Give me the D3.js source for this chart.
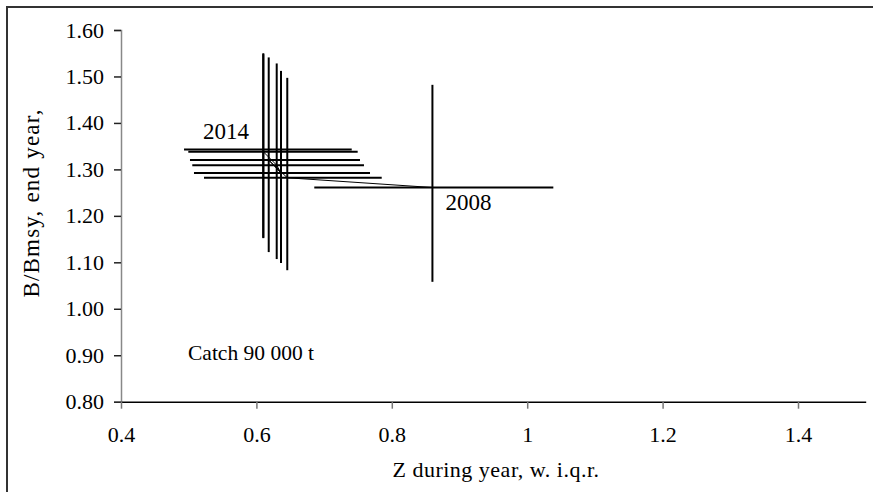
<!DOCTYPE html>
<html><head><meta charset="utf-8">
<script src="https://cdn.jsdelivr.net/npm/d3@7"></script>
<style>
html,body{margin:0;padding:0;background:#fff;}
svg{display:block;}
text{font-family:"Liberation Serif","Times New Roman",serif;fill:#000;}
</style></head>
<body><svg id="chart" width="873" height="492"></svg>
<script>
const years   = [2008, 2009, 2010, 2011, 2012, 2013, 2014];
const zMed    = [0.860, 0.6456, 0.6182, 0.6363, 0.6300, 0.6102, 0.6102];
const zLow    = [0.6855, 0.5226, 0.5019, 0.5078, 0.5053, 0.4994, 0.4931];
const zHigh   = [1.0386, 0.7851, 0.7530, 0.7678, 0.7589, 0.7496, 0.7408];
const bMed    = [1.261, 1.282, 1.320, 1.292, 1.309, 1.338, 1.343];
const bLow    = [1.058, 1.083, 1.122, 1.0985, 1.107, 1.152, 1.153];
const bHigh   = [1.482, 1.497, 1.541, 1.512, 1.528, 1.550, 1.548];
const xTicks  = [0.4, 0.6, 0.8, 1.0, 1.2, 1.4];
const xTickLabels = ["0.4", "0.6", "0.8", "1", "1.2", "1.4"];
const yTicks  = [0.8, 0.9, 1.0, 1.1, 1.2, 1.3, 1.4, 1.5, 1.6];
const labeledYears = [2008, 2014];
const note = "Catch 90 000 t";

const FONT = '"Liberation Serif","Times New Roman",serif';
const svg = d3.select("#chart");
const x = d3.scaleLinear().domain([0.4, 1.5]).range([121, 865.7]);
const y = d3.scaleLinear().domain([0.8, 1.6]).range([401.7, 30]);

// outer frame
svg.append("rect").attr("x", 7).attr("y", 7).attr("width", 880).attr("height", 500)
  .attr("fill", "none").attr("stroke", "#333").attr("stroke-width", 2);

// y axis
const yAxis = svg.append("g").attr("transform", `translate(${x(0.4)},0)`)
  .call(d3.axisLeft(y).tickValues(yTicks).tickFormat(d3.format(".2f")).tickSize(7).tickPadding(10));
yAxis.select(".domain").attr("stroke", "#888").attr("stroke-width", 1.5);
yAxis.selectAll(".tick line").attr("stroke", "#222").attr("stroke-width", 1.5);
yAxis.selectAll("text").style("font-family", FONT).style("font-size", "22px");

// x axis
const xAxis = svg.append("g").attr("transform", `translate(0,${y(0.8)})`)
  .call(d3.axisBottom(x).tickValues(xTicks).tickFormat((d, i) => xTickLabels[i]).tickSize(7).tickSizeOuter(0).tickPadding(18));
xAxis.select(".domain").attr("stroke", "#000").attr("stroke-width", 1.5);
xAxis.selectAll(".tick line").attr("stroke", "#777").attr("stroke-width", 1.5);
xAxis.selectAll("text").style("font-family", FONT).style("font-size", "22px");

// axis titles
svg.append("text").attr("x", 496).attr("y", 477).attr("text-anchor", "middle")
  .style("font-size", "22px").style("letter-spacing", "0.5px").text("Z during year, w. i.q.r.");
svg.append("text").attr("transform", "translate(39,203) rotate(-90)").attr("text-anchor", "middle")
  .style("font-size", "23px").style("letter-spacing", "1.2px").text("B/Bmsy, end year,");

const data = years.map((yr, i) => ({yr, zm: zMed[i], zl: zLow[i], zh: zHigh[i], bm: bMed[i], bl: bLow[i], bh: bHigh[i]}));

// trajectory thin line
svg.append("path").datum(data)
  .attr("d", d3.line().x(d => x(d.zm)).y(d => y(d.bm)))
  .attr("fill", "none").attr("stroke", "#000").attr("stroke-width", 1);

// horizontal i.q.r. lines
svg.selectAll("line.h").data(data).join("line").attr("class", "h")
  .attr("x1", d => x(d.zl)).attr("x2", d => x(d.zh))
  .attr("y1", d => y(d.bm)).attr("y2", d => y(d.bm))
  .attr("stroke", "#000").attr("stroke-width", 2);
// vertical i.q.r. lines
svg.selectAll("line.v").data(data).join("line").attr("class", "v")
  .attr("x1", d => x(d.zm)).attr("x2", d => x(d.zm))
  .attr("y1", d => y(d.bl)).attr("y2", d => y(d.bh))
  .attr("stroke", "#000").attr("stroke-width", 2);

// year labels
const d2008 = data.find(d => d.yr === labeledYears[0]);
const d2014 = data.find(d => d.yr === labeledYears[1]);
svg.append("text").attr("x", x(d2008.zm) + 13).attr("y", y(d2008.bm) + 22)
  .style("font-size", "23px").text(String(d2008.yr));
svg.append("text").attr("x", x(d2014.zl) + 19).attr("y", y(d2014.bm) - 10)
  .style("font-size", "23px").text(String(d2014.yr));

// note
svg.append("text").attr("x", 188).attr("y", 360).style("font-size", "21.5px").text(note);
</script></body></html>
